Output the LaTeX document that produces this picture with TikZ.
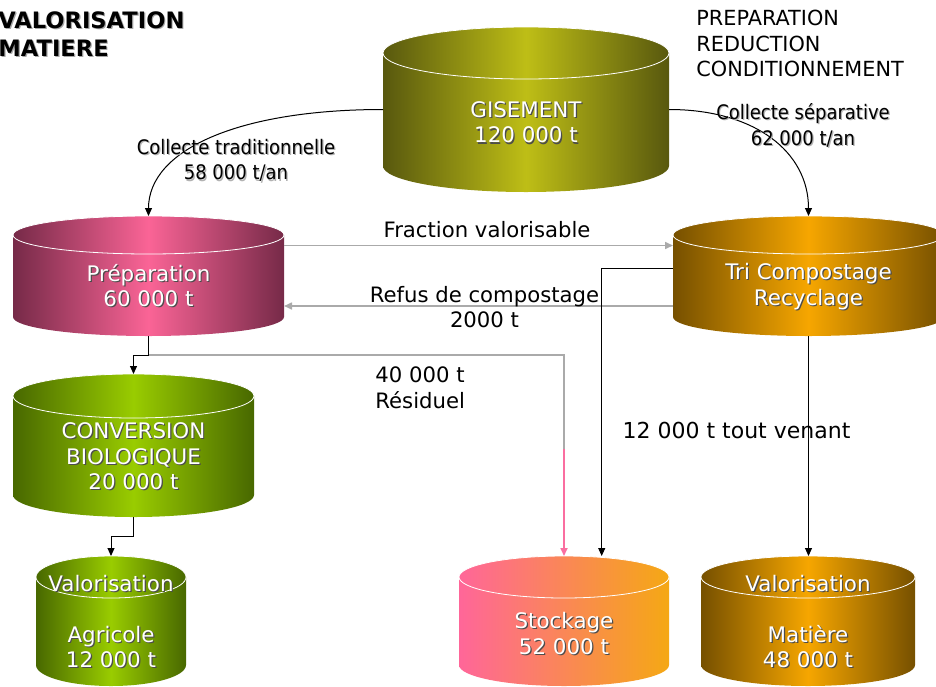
\documentclass[tikz,border=0pt]{standalone}
\usepackage{fontspec}
\setmainfont{DejaVu Sans}
\newfontfamily\condfont{DejaVu Sans Condensed}
\usetikzlibrary{arrows.meta}

\definecolor{olivedark}{RGB}{88,88,14}
\definecolor{olivelight}{RGB}{190,190,22}
\definecolor{pinkdark}{RGB}{118,42,72}
\definecolor{pinklight}{RGB}{250,100,150}
\definecolor{orangedark}{RGB}{118,80,0}
\definecolor{orangelight}{RGB}{246,166,0}
\definecolor{greendark}{RGB}{72,104,0}
\definecolor{greenlight}{RGB}{153,204,0}
\definecolor{stockpink}{RGB}{255,102,153}
\definecolor{stockorange}{RGB}{245,168,20}
\definecolor{flowgray}{RGB}{170,170,170}
\definecolor{flowpink}{RGB}{250,110,160}

% Text mit Schatten
\newcommand{\shadowed}[2][black!70]{\makebox[0pt][l]{\hspace{0.6pt}\raisebox{-0.6pt}{\color{#1}#2}}#2}

\tikzset{
	drumbox/.style={rectangle, inner sep=0pt, outer sep=0pt},
	drumtext/.style={text=white, align=center, inner sep=0pt,
		font=\fontsize{10.7}{12.75}\selectfont},
	rim/.style={draw=white, line width=0.4pt},
	flowtext/.style={align=center, inner sep=0pt,
		font=\fontsize{10.6}{12.9}\selectfont},
	flow/.style={line width=0.5pt, -{Triangle[width=3.5pt,length=4pt]}},
	grayflow/.style={flow, draw=flowgray, line width=0.8pt},
	grayline/.style={draw=flowgray, line width=0.8pt},
	pinkflow/.style={flow, draw=flowpink, line width=0.8pt}
}

\begin{document}
\begin{tikzpicture}[x=0.5pt, y=0.5pt]
	\useasboundingbox (0,0) rectangle (936,-686);

	% Titel
	\node[anchor=north west, align=left, inner sep=0pt,
		font=\bfseries\fontsize{11.3}{14.2}\selectfont] (titre) at (-2,-11)
		{\shadowed[black!35]{VALORISATION}\\\shadowed[black!35]{MATIERE}};
	\node[anchor=north west, align=left, inner sep=0pt,
		font=\fontsize{10.4}{12.75}\selectfont] (etapes) at (696,-10)
		{PREPARATION\\REDUCTION\\CONDITIONNEMENT};

	% Gisement
	\shade[left color=olivedark, right color=olivedark, middle color=olivelight]
		(383,-53) -- (383,-166) arc[start angle=180, end angle=360, x radius=143, y radius=26]
		-- (669,-53) arc[start angle=0, end angle=180, x radius=143, y radius=26] -- cycle;
	\draw[rim] (526,-53) ellipse[x radius=143, y radius=26];
	\node[drumbox, minimum width=143pt, minimum height=82.5pt] (gis) at (526,-109.5) {};
	\node[drumtext] (gis-txt) at (526,-123)
		{\shadowed{GISEMENT}\\\shadowed{120 000 t}};

	% Preparation
	\shade[left color=pinkdark, right color=pinkdark, middle color=pinklight]
		(13,-235) -- (13,-317) arc[start angle=180, end angle=360, x radius=135.5, y radius=19]
		-- (284,-235) arc[start angle=0, end angle=180, x radius=135.5, y radius=19] -- cycle;
	\draw[rim] (148.5,-235) ellipse[x radius=135.5, y radius=19];
	\node[drumbox, minimum width=135.5pt, minimum height=60pt] (prep) at (148.5,-276) {};
	\node[drumtext] (prep-txt) at (148.5,-286)
		{\shadowed{Préparation}\\\shadowed{60 000 t}};

	% Tri Compostage
	\shade[left color=orangedark, right color=orangedark, middle color=orangelight]
		(673,-235) -- (673,-317) arc[start angle=180, end angle=360, x radius=135.5, y radius=19]
		-- (944,-235) arc[start angle=0, end angle=180, x radius=135.5, y radius=19] -- cycle;
	\draw[rim] (808.5,-235) ellipse[x radius=135.5, y radius=19];
	\node[drumbox, minimum width=135.5pt, minimum height=60pt] (tri) at (808.5,-276) {};
	\node[drumtext] (tri-txt) at (808.5,-287)
		{\shadowed{Tri Compostage}\\\shadowed{Recyclage}};

	% Conversion biologique
	\shade[left color=greendark, right color=greendark, middle color=greenlight]
		(13,-396) -- (13,-495) arc[start angle=180, end angle=360, x radius=120.5, y radius=22]
		-- (254,-396) arc[start angle=0, end angle=180, x radius=120.5, y radius=22] -- cycle;
	\draw[rim] (133.5,-396) ellipse[x radius=120.5, y radius=22];
	\node[drumbox, minimum width=120.5pt, minimum height=71.5pt] (conv) at (133.5,-445.5) {};
	\node[drumtext] (conv-txt) at (133.5,-457)
		{\shadowed{CONVERSION}\\\shadowed{BIOLOGIQUE}\\\shadowed{20 000 t}};

	% Valorisation agricole
	\shade[left color=greendark, right color=greendark, middle color=greenlight]
		(36,-577) -- (36,-665) arc[start angle=180, end angle=360, x radius=75, y radius=21]
		-- (186,-577) arc[start angle=0, end angle=180, x radius=75, y radius=21] -- cycle;
	\draw[rim] (111,-577) ellipse[x radius=75, y radius=21];
	\node[drumbox, minimum width=75pt, minimum height=65pt] (agri) at (111,-621) {};
	\node[drumtext] (agri-txt) at (111,-622)
		{\shadowed{Valorisation}\\[12.75pt]\shadowed{Agricole}\\\shadowed{12 000 t}};

	% Stockage
	\shade[left color=stockpink, right color=stockorange]
		(459,-577) -- (459,-665) arc[start angle=180, end angle=360, x radius=105, y radius=21]
		-- (669,-577) arc[start angle=0, end angle=180, x radius=105, y radius=21] -- cycle;
	\draw[rim] (564,-577) ellipse[x radius=105, y radius=21];
	\node[drumbox, minimum width=105pt, minimum height=65pt] (stock) at (564,-621) {};
	\node[drumtext] (stock-txt) at (564,-634)
		{\shadowed{Stockage}\\\shadowed{52 000 t}};

	% Valorisation matiere
	\shade[left color=orangedark, right color=orangedark, middle color=orangelight]
		(701,-577) -- (701,-665) arc[start angle=180, end angle=360, x radius=107, y radius=21]
		-- (915,-577) arc[start angle=0, end angle=180, x radius=107, y radius=21] -- cycle;
	\draw[rim] (808,-577) ellipse[x radius=107, y radius=21];
	\node[drumbox, minimum width=107pt, minimum height=65pt] (mat) at (808,-621) {};
	\node[drumtext] (mat-txt) at (808,-622)
		{\shadowed{Valorisation}\\[12.75pt]\shadowed{Matière}\\\shadowed{48 000 t}};

	% Fluesse
	\coordinate (residuel) at (564,-449);
	\draw[flow] (gis.west) .. controls +(-145,0) and +(0,66) .. (prep.north);
	\draw[flow] (gis.east) .. controls +(86,0) and +(0,64) .. (tri.north);
	\draw[grayflow] ([yshift=15.25pt]prep.east) -- ([yshift=15.25pt]tri.west);
	\draw[grayflow] ([yshift=-15pt]tri.west) -- ([yshift=-15pt]prep.east);
	\draw[grayline] (prep.south) -- ++(0,-19) -| (residuel);
	\draw[pinkflow] (residuel) -- (stock.north);
	\draw[flow] (prep.south) -- ++(0,-19) -| (conv.north);
	\draw[flow] (conv.south) -- ++(0,-19) -| (agri.north);
	\draw[flow] ([yshift=3.75pt]tri.west) -| ([xshift=18.85pt]stock.north);
	\draw[flow] (tri.south) -- (tri.south |- mat.north);

	% Beschriftungen
	\node[flowtext, font=\condfont\fontsize{10}{12.75}\selectfont] (trad) at (236,-161)
		{\shadowed[black!30]{Collecte traditionnelle}\\\shadowed[black!30]{58 000 t/an}};
	\node[flowtext, font=\condfont\fontsize{10}{12.75}\selectfont] (sep) at (803,-126)
		{\shadowed[black!30]{Collecte séparative}\\\shadowed[black!30]{62 000 t/an}};
	\node[flowtext] (frac) at (487,-230) {Fraction valorisable};
	\node[flowtext] (refus) at (484.5,-307) {Refus de compostage\\2000 t};
	\node[flowtext, align=left, anchor=west] (resid) at (375,-388) {40 000 t\\Résiduel};
	\node[flowtext, font=\fontsize{11}{13}\selectfont] (venant) at (736.5,-430)
		{12 000 t tout venant};
\end{tikzpicture}
\end{document}
